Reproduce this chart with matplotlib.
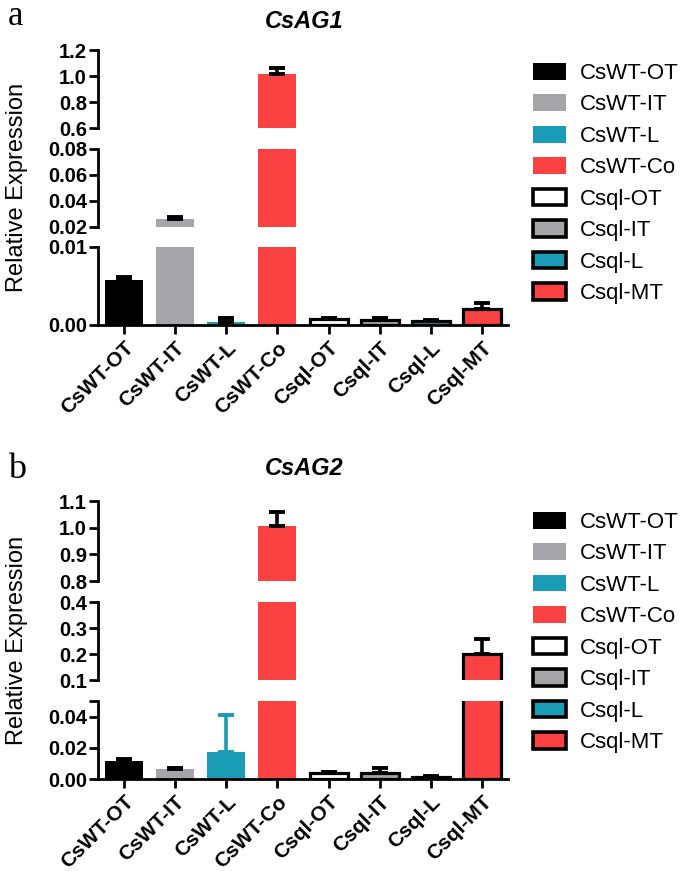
import matplotlib
matplotlib.use("Agg")
import matplotlib.pyplot as plt
from matplotlib.patches import Patch
import numpy as np

plt.rcParams['font.family'] = ['Liberation Sans', 'DejaVu Sans']

categories = ['CsWT-OT', 'CsWT-IT', 'CsWT-L', 'CsWT-Co', 'Csql-OT', 'Csql-IT', 'Csql-L', 'Csql-MT']

ag1_mean = [0.0058, 0.0262, 0.0004, 1.015, 0.0008, 0.0006, 0.0005, 0.0021]
ag1_err = [0.0004, 0.0013, 0.0005, 0.05, 0.0001, 0.0003, 0.0001, 0.0007]
ag2_mean = [0.0116, 0.0063, 0.0170, 1.005, 0.0038, 0.0040, 0.0015, 0.200]
ag2_err = [0.0011, 0.0005, 0.0240, 0.055, 0.0004, 0.0032, 0.0002, 0.058]

ag1_segments = [(0.0, 0.01), (0.02, 0.08), (0.6, 1.2)]
ag2_segments = [(0.0, 0.05), (0.1, 0.4), (0.8, 1.1)]
ag1_ticks = [[0.0, 0.01], [0.02, 0.04, 0.06, 0.08], [0.6, 0.8, 1.0, 1.2]]
ag1_ticklabels = [['0.00', '0.01'], ['0.02', '0.04', '0.06', '0.08'], ['0.6', '0.8', '1.0', '1.2']]
ag2_ticks = [[0.0, 0.02, 0.04, 0.05], [0.1, 0.2, 0.3, 0.4], [0.8, 0.9, 1.0, 1.1]]
ag2_ticklabels = [['0.00', '0.02', '0.04', ''], ['0.1', '0.2', '0.3', '0.4'], ['0.8', '0.9', '1.0', '1.1']]

BLACK = '#000000'
GRAY = '#A4A4A9'
TEAL = '#1A9BB6'
RED = '#FA4242'
fills = [BLACK, GRAY, TEAL, RED, '#FFFFFF', GRAY, TEAL, RED]
edges = [BLACK, GRAY, TEAL, RED, BLACK, BLACK, BLACK, BLACK]
edge_w = [0, 0, 0, 0, 2.3, 2.3, 2.3, 2.3]
ag1_errcolor = [BLACK] * 8
ag2_errcolor = [BLACK, BLACK, TEAL, BLACK, BLACK, BLACK, BLACK, BLACK]

W, H = 685, 871
fig = plt.figure(figsize=(W / 100, H / 100), dpi=100)

def px_axes(left, top, right, bottom):
    return fig.add_axes([left / W, 1 - bottom / H, (right - left) / W, (bottom - top) / H])

def draw_panel(seg_px, segments, ticks, ticklabels, means, errs, errcolors, title, title_y, letter, letter_xy, letter_size, leg_top):
    x = np.arange(len(categories))
    axes = []
    for (top, bot), (lo, hi), tk, tl in zip(seg_px, segments, ticks, ticklabels):
        ax = px_axes(98, top, 508, bot)
        ax.bar(x, means, width=0.74, color=fills, edgecolor=edges, linewidth=edge_w, zorder=2)
        for i in range(len(x)):
            ax.errorbar(x[i], means[i], yerr=[[0], [errs[i]]], fmt='none', ecolor=errcolors[i],
                        elinewidth=2.6, capsize=5.8, capthick=2.8, zorder=3)
        ax.set_xlim(-0.5, 7.5)
        ax.set_ylim(lo, hi)
        ax.set_yticks(tk)
        ax.set_yticklabels(tl, fontsize=14.5, fontweight='bold')
        for s in ['top', 'right', 'bottom']:
            ax.spines[s].set_visible(False)
        ax.spines['left'].set_linewidth(2.0)
        ax.tick_params(axis='y', length=6.5, width=2.0, pad=1.5)
        ax.set_xticks([])
        ax.patch.set_alpha(0)
        axes.append(ax)
    bax = axes[0]
    bax.spines['bottom'].set_visible(True)
    bax.spines['bottom'].set_linewidth(2.0)
    bax.set_xticks(x)
    bax.set_xticklabels(categories, rotation=45, ha='right', va='top', rotation_mode='anchor',
                        fontsize=15, fontweight='bold')
    bax.tick_params(axis='x', length=6.5, width=2.0, pad=3)
    fig.text(304 / W, 1 - title_y / H, title, ha='center', va='center', fontsize=17,
             fontweight='bold', fontstyle='italic')
    fig.text(letter_xy[0] / W, 1 - letter_xy[1] / H, letter, ha='left', va='baseline',
             fontsize=letter_size, family=['Liberation Serif', 'DejaVu Serif'])
    mid = (seg_px[0][1] + seg_px[-1][0]) / 2
    fig.text(17 / W, 1 - mid / H, 'Relative Expression', rotation=90, ha='center', va='center',
             fontsize=17)
    handles = [Patch(facecolor=fills[i], edgecolor=(BLACK if edge_w[i] > 0 else fills[i]),
                     linewidth=(2.6 if edge_w[i] > 0 else 0)) for i in range(len(categories))]
    fig.legend(handles, categories, loc='upper left', bbox_to_anchor=(533 / W, 1 - leg_top / H),
               frameon=False, fontsize=16, handlelength=1.5, handleheight=0.77,
               labelspacing=0.47, handletextpad=0.63, borderaxespad=0, borderpad=0)

draw_panel([(247, 325), (149, 227), (50, 128)], ag1_segments, ag1_ticks, ag1_ticklabels,
           ag1_mean, ag1_err, ag1_errcolor, 'CsAG1', 21, 'a', (8, 25), 25, 63)
draw_panel([(701, 779), (602, 680), (501, 581)], ag2_segments, ag2_ticks, ag2_ticklabels,
           ag2_mean, ag2_err, ag2_errcolor, 'CsAG2', 468, 'b', (8, 478), 26, 512)

fig.savefig('out.png', dpi=100)
